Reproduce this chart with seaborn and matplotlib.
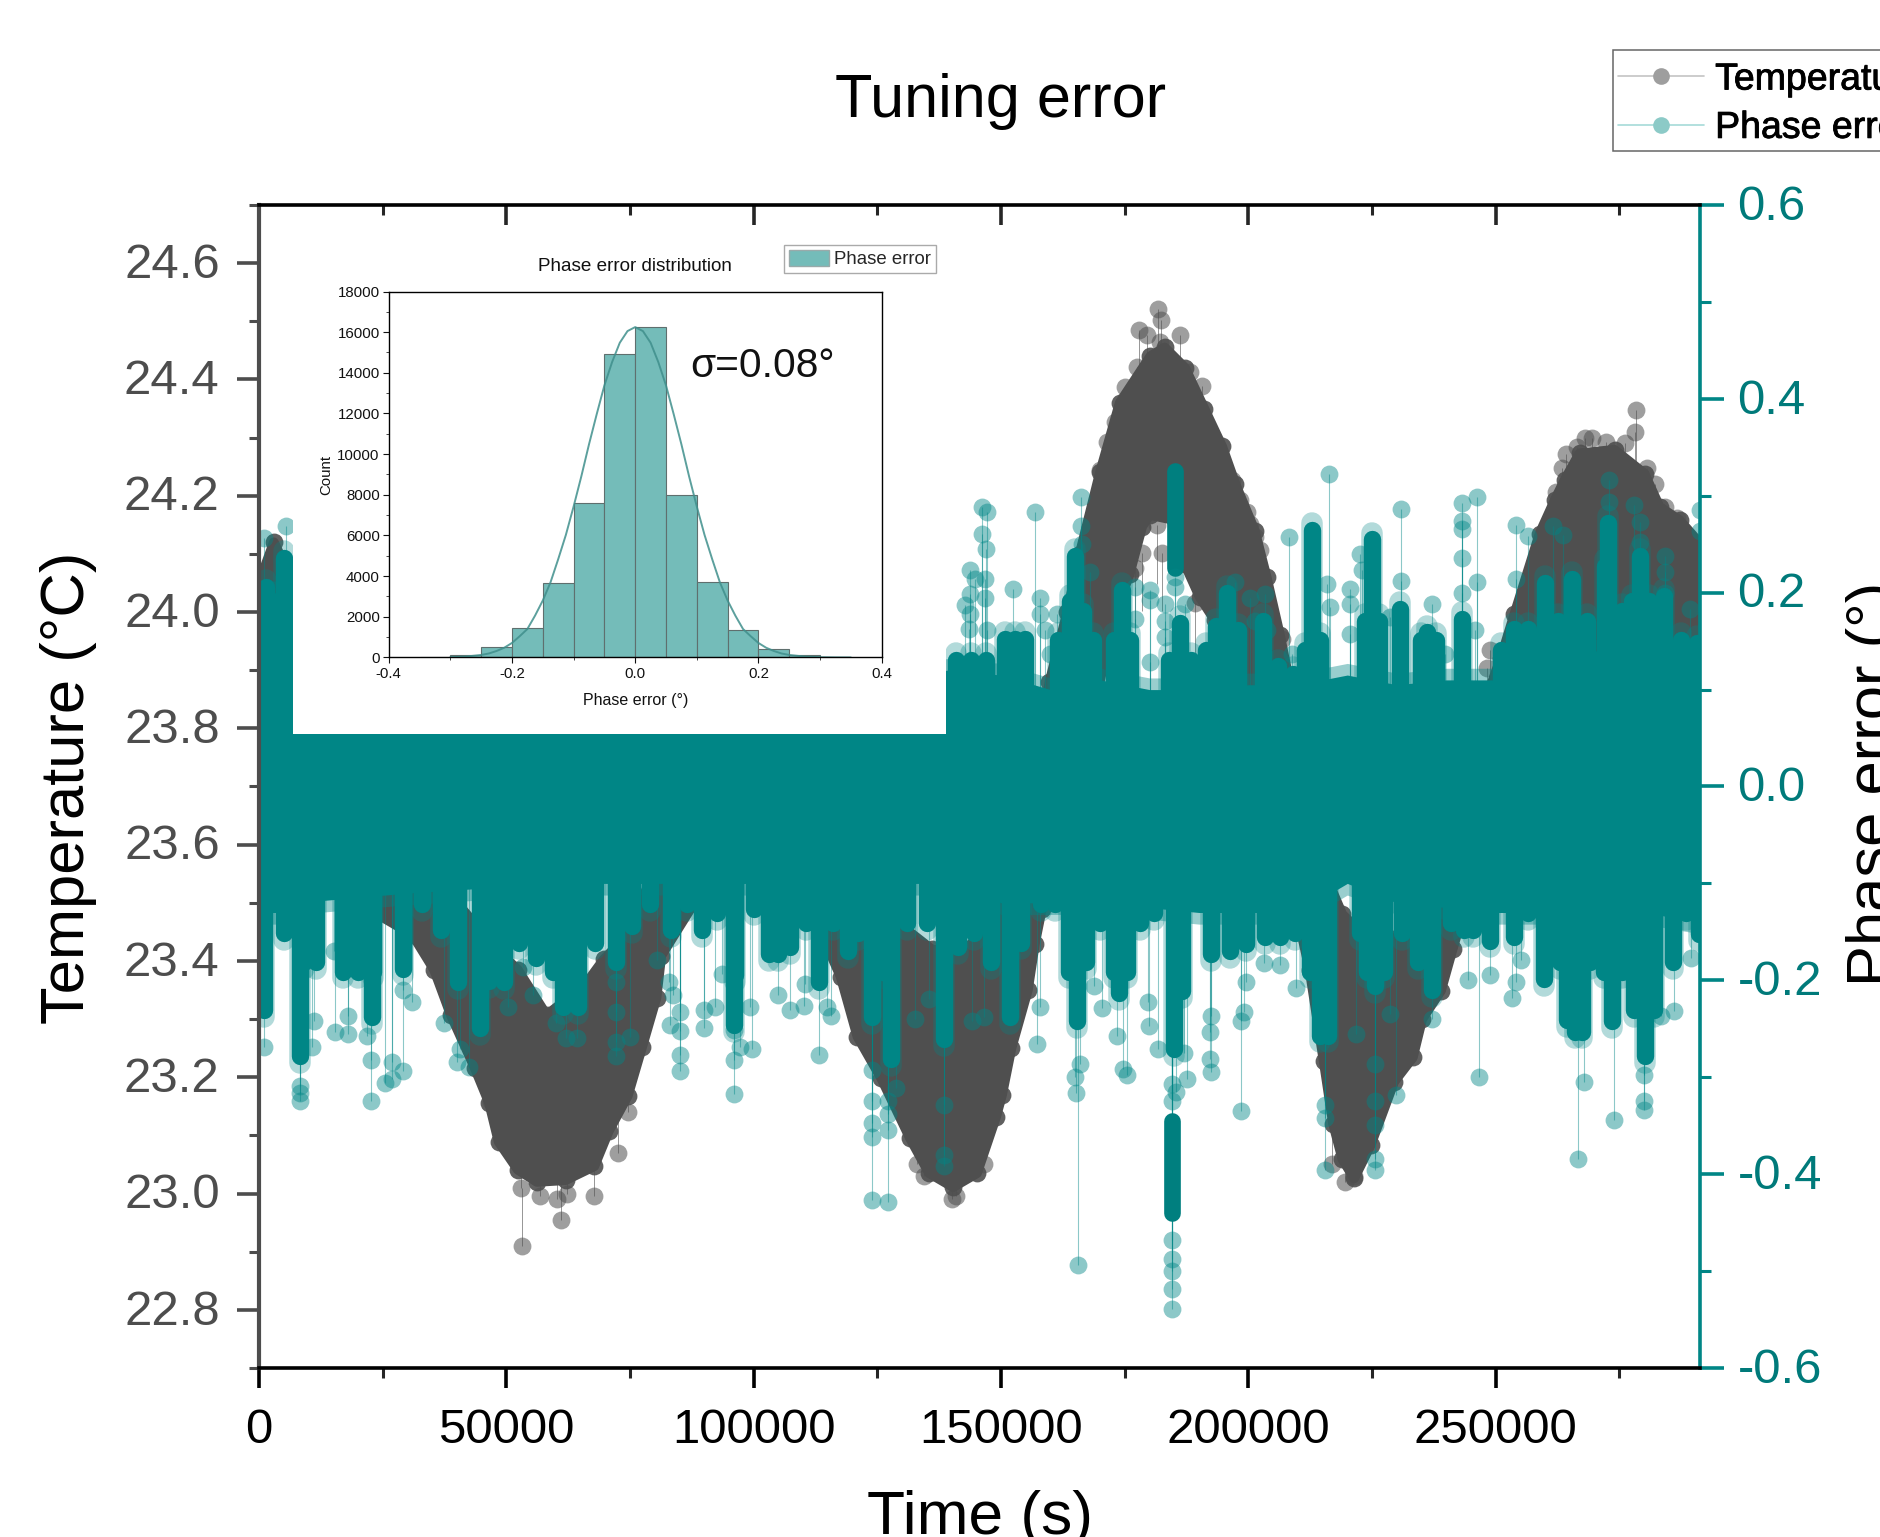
import numpy as np
import matplotlib
matplotlib.use("Agg")
import matplotlib.pyplot as plt
import matplotlib.patheffects as pe
from matplotlib.ticker import MultipleLocator
from matplotlib.lines import Line2D
from matplotlib.patches import Patch, Rectangle
from matplotlib.transforms import ScaledTranslation
import seaborn as sns

# ---------- data ----------
temp_upper_t = [0,3000,7000,14000,22000,30000,40000,48000,52310,58120,65850,69720,74550,82000,92000,105000,113000,122000,130000,136000,142000,148000,155000,159800,163400,165900,170000,174000,180200,183100,187200,191100,194700,197400,201300,203700,206400,208300,210500,214000,219000,224000,230000,235000,240000,244000,248000,251000,253800,258870,261900,263920,266950,274030,280090,283120,287170,291300]
temp_upper = [24.05,24.12,24.05,23.9,23.72,23.6,23.5,23.42,23.385,23.307,23.358,23.403,23.445,23.6,23.82,23.85,23.72,23.55,23.46,23.42,23.41,23.47,23.62,23.88,24.0,24.1,24.24,24.36,24.44,24.455,24.42,24.35,24.285,24.22,24.14,24.06,23.96,23.88,23.72,23.58,23.48,23.44,23.44,23.48,23.52,23.72,23.85,23.92,23.997,24.135,24.192,24.227,24.273,24.279,24.238,24.181,24.158,24.118]
temp_lower_t = [0,8000,20000,31040,35390,38780,43610,46510,48440,52310,56180,61980,67790,70690,74550,77450,80360,81320,88000,100000,112000,117580,120970,125800,131610,135480,140310,145150,149010,150220,152110,155430,156860,158280,165000,170960,171970,176010,178530,180050,185100,187120,190150,193190,198000,204000,208000,210480,212370,215220,217120,219020,221390,224710,229460,233250,235150,238950,241320,243700,248000,255000,265000,280000,291300]
temp_lower = [23.78,23.65,23.5,23.445,23.385,23.307,23.216,23.156,23.089,23.041,23.02,23.023,23.047,23.107,23.168,23.252,23.337,23.409,23.5,23.55,23.48,23.373,23.27,23.198,23.095,23.035,23.011,23.035,23.132,23.17,23.25,23.35,23.43,23.49,23.68,23.92,23.969,24.066,24.147,24.167,24.158,24.083,24.026,23.986,23.88,23.72,23.6,23.457,23.385,23.228,23.12,23.059,23.026,23.083,23.192,23.234,23.30,23.349,23.421,23.49,23.62,23.72,23.8,23.85,23.82]

temp_out_t = [181770,182370,177830,179540,186110,182070,188130,190660,177520,175000,172980,171460,169945,199750,200260,202280,201270,198240,196720,182580,178530,181560,189140,177020,248760,248260,206830,
              278370,278070,267960,269480,272210,276050,266450,264120,263420,262200,280600,282110,284130,286660,
              53090,61100,67800,53000,56800,60200,62300,72500,74500,46800,36000,133000,134500,140000,141000,146500,217000,219500,221400]
temp_out = [24.522,24.502,24.485,24.476,24.476,24.465,24.413,24.389,24.422,24.387,24.327,24.293,24.244,24.172,24.152,24.106,24.129,24.192,24.227,24.101,24.101,24.149,24.015,24.075,23.934,23.903,23.954,
            24.347,24.31,24.299,24.299,24.293,24.29,24.284,24.272,24.247,24.207,24.247,24.221,24.181,24.161,
            22.91,22.955,22.995,23.01,22.995,22.99,23.0,23.07,23.14,23.16,23.39,23.05,23.03,22.99,22.995,23.05,23.05,23.02,23.03]

band_t = [0,7000,7500,30000,60000,90000,120000,139000,150000,160000,170000,180000,190000,200000,210000,220000,230000,240000,250000,255000,270000,280000,291300]
band_top = [.2,.2,.09,.09,.09,.09,.09,.12,.115,.10,.11,.10,.10,.105,.105,.115,.105,.11,.11,.14,.14,.14,.14]
band_bot = [-.13,-.13,-.12,-.11,-.10,-.10,-.10,-.10,-.12,-.12,-.12,-.125,-.13,-.13,-.13,-.10,-.12,-.125,-.13,-.13,-.13,-.13,-.14]

col_up_t = [1500,5000,141000,144000,147000,150800,152800,154800,165000,164000,166500,161500,168500,174500,172900,176000,186100,184000,188500,195700,191500,193500,198000,203000,206000,209000,212900,211500,214500,225000,223500,226500,230600,236100,234800,238000,243200,251000,253800,256500,259900,262500,265400,268500,272000,272800,275500,279100,277500,281000,284100,287500,290700]
col_up = [.215,.245,.14,.14,.14,.161,.161,.161,.247,.2,.19,.16,.16,.212,.16,.16,.178,.14,.14,.209,.15,.175,.17,.18,.133,.125,.274,.15,.16,.264,.18,.18,.192,.168,.16,.16,.182,.15,.171,.171,.219,.18,.223,.18,.237,.281,.19,.247,.2,.2,.206,.16,.157]
col_dn_t = [1060,5000,9000,11500,8220,17000,20000,23000,22800,29100,33000,36800,40200,44580,46500,49500,52500,56000,59500,61500,64500,68000,72100,75500,79000,83260,86500,89500,92500,96300,96000,100000,103100,105000,107400,110500,113200,116000,119000,123900,121000,126000,127740,131000,135000,138400,141300,144500,148000,151830,154000,158000,161000,165400,163800,167200,170000,173940,172800,175500,178000,181000,185040,186500,192400,196240,199560,203360,206490,209500,212500,214460,216000,222500,225660,224000,227500,231000,234200,237050,241000,243690,245500,248910,253650,256500,259820,263000,264500,266000,267500,269000,273580,271800,275500,278000,280230,282000,285920,288500,291140]
col_dn = [-.24,-.16,-.19,-.19,-.287,-.2,-.2,-.2,-.247,-.197,-.13,-.157,-.211,-.258,-.21,-.211,-.17,-.186,-.2,-.237,-.237,-.17,-.19,-.153,-.13,-.157,-.13,-.157,-.14,-.204,-.255,-.135,-.182,-.182,-.175,-.15,-.211,-.15,-.179,-.247,-.16,-.2,-.29,-.15,-.15,-.27,-.175,-.16,-.19,-.247,-.17,-.13,-.13,-.251,-.2,-.19,-.15,-.222,-.2,-.2,-.15,-.14,-.28,-.22,-.182,-.179,-.172,-.164,-.164,-.16,-.2,-.266,-.266,-.16,-.215,-.2,-.2,-.16,-.19,-.219,-.15,-.157,-.157,-.168,-.164,-.14,-.208,-.19,-.25,-.262,-.262,-.19,-.251,-.2,-.2,-.24,-.287,-.24,-.19,-.14,-.161]
col_float_t = [185100,184570]
col_float_lo = [.225,-.44]
col_float_hi = [.326,-.345]

phase_up_t = [1000,5500,146200,147210,146200,146900,143670,144680,146700,146700,143670,142660,143670,147210,143470,156810,152460,157820,157820,158830,161360,159840,166200,166200,166410,167920,177020,180050,180050,177020,183080,183080,183080,180050,185100,185100,187120,200260,197230,203290,201270,203800,208140,208850,216330,215920,216430,220470,220470,220470,222490,223000,228550,230880,230880,237140,239670,243110,243110,243110,243110,243110,246140,246140,245730,254020,256540,254020,261600,263620,272810,272810,277860,279080,279080,284130,284130,284130,289190,291200,291200]
phase_up = [.256,.269,.288,.283,.261,.245,.223,.214,.214,.194,.199,.187,.178,.161,.163,.283,.204,.195,.178,.161,.178,.137,.299,.269,.250,.221,.206,.203,.192,.173,.188,.171,.154,.128,.216,.206,.188,.195,.211,.199,.171,.161,.257,.137,.322,.209,.185,.204,.188,.157,.240,.223,.175,.286,.212,.188,.137,.293,.274,.266,.236,.2,.299,.211,.161,.27,.258,.214,.269,.26,.316,.294,.29,.273,.252,.238,.221,.2,.183,.285,.264]
phase_dn_t = [1060,8220,8220,8220,11215,10730,15080,15370,18000,18000,21850,22720,22720,25530,26880,26880,29100,30850,29100,37330,40710,40030,42450,50380,53280,55410,60050,61980,64210,72140,72140,72140,72140,75040,80360,82970,83740,83060,85190,85190,85190,85190,90030,90030,92250,93610,96020,96020,96020,97280,99700,99210,105010,107430,110330,110140,113230,114880,115650,123870,127060,123870,123870,123870,123870,127060,127060,127060,128700,138380,138380,138380,144180,146600,132570,135480,
              165590,184570,184570,184570,184570,184570,184660,185330,184660,187510,186940,165210,164920,165870,157810,157330,168720,170330,173470,174600,175550,179730,179920,181820,192160,192160,192540,192540,198610,199090,198610,199560,203070,206490,209530,215410,215410,215410,225660,225660,225660,225660,225660,229930,221860,228700,237050,244450,248910,246540,253370,254130,255080,266660,267880,273870,280040,280040,280040,283360,286110,289430]
phase_dn = [-.269,-.309,-.316,-.324,-.242,-.269,-.170,-.253,-.255,-.237,-.257,-.282,-.325,-.306,-.302,-.284,-.294,-.222,-.21,-.244,-.271,-.284,-.289,-.228,-.186,-.215,-.244,-.26,-.26,-.202,-.233,-.264,-.278,-.258,-.179,-.202,-.215,-.246,-.233,-.252,-.277,-.294,-.231,-.249,-.228,-.193,-.282,-.317,-.251,-.269,-.271,-.228,-.215,-.231,-.204,-.226,-.277,-.228,-.237,-.427,-.429,-.362,-.347,-.325,-.293,-.354,-.338,-.324,-.311,-.329,-.38,-.392,-.242,-.238,-.24,-.219,
            -.494,-.539,-.518,-.5,-.488,-.468,-.325,-.315,-.307,-.302,-.275,-.316,-.30,-.286,-.228,-.266,-.206,-.229,-.257,-.291,-.298,-.222,-.247,-.271,-.253,-.281,-.295,-.237,-.335,-.233,-.242,-.202,-.182,-.184,-.208,-.396,-.342,-.329,-.396,-.384,-.286,-.325,-.349,-.318,-.255,-.235,-.24,-.2,-.194,-.3,-.218,-.202,-.179,-.384,-.305,-.344,-.334,-.325,-.298,-.237,-.232,-.177]

hist_edges = [-.35,-.3,-.25,-.2,-.15,-.1,-.05,0,.05,.1,.15,.2,.25,.3,.35]
hist_centers = [-.325,-.275,-.225,-.175,-.125,-.075,-.025,.025,.075,.125,.175,.225,.275,.325]
hist_counts = [30,130,500,1470,3680,7600,14950,16250,8000,3730,1350,430,130,30]
fit_x = [-.3,-.275,-.25,-.2375,-.225,-.2125,-.2,-.1875,-.175,-.1625,-.15,-.1375,-.125,-.1125,-.1,-.0875,-.075,-.0625,-.05,-.0375,-.025,-.0125,0,.0125,.025,.0375,.05,.0625,.075,.0875,.1,.1125,.125,.1375,.15,.1625,.175,.1875,.2,.2125,.225,.2375,.25,.275,.3,.325,.35]
fit_y = [14,45,125,197,320,480,714,1045,1400,2060,2800,3690,4830,6030,7420,8900,10480,11961,13380,14528,15480,16053,16250,16053,15480,14528,13380,11961,10480,8900,7420,6030,4830,3690,2800,2060,1400,1045,714,480,320,197,125,45,14,4,1]

# ---------- style ----------
W, H = 1881, 1537
sns.set_theme(style="ticks")
plt.rcParams["font.family"] = ["Liberation Sans", "DejaVu Sans"]
plt.rcParams["axes.unicode_minus"] = False
GRAY, TEAL = "#4f4f4f", "#008686"
MS = 165

fig = plt.figure(figsize=(W / 100, H / 100), dpi=100, facecolor="white")
ax = fig.add_axes([259 / W, 1 - 1368 / H, 1441 / W, 1163 / H])
tw = ax.twinx()

# ---------- temperature ----------
ax.fill(temp_upper_t + temp_lower_t[::-1], temp_upper + temp_lower[::-1], color=GRAY, lw=7, joinstyle="round", zorder=1)
ax.vlines(temp_out_t, temp_out, [v + 0.1 if v < 23.5 else v - 0.1 for v in temp_out], color=GRAY, lw=0.7, alpha=0.6, zorder=1)
sns.scatterplot(x=temp_upper_t, y=temp_upper, ax=ax, color=GRAY, s=MS, alpha=0.9, linewidth=0, legend=False, zorder=1.5)
sns.scatterplot(x=temp_lower_t, y=temp_lower, ax=ax, color=GRAY, s=MS, alpha=0.9, linewidth=0, legend=False, zorder=1.5)
sns.scatterplot(x=temp_out_t, y=temp_out, ax=ax, color=GRAY, s=MS, alpha=0.55, linewidth=0, legend=False, zorder=2)
ax.set_xlim(0, 291300)
ax.set_ylim(22.7, 24.7)
ax.set_ylabel("")

# ---------- phase error ----------
tw.vlines(phase_up_t, 0, phase_up, color=TEAL, lw=0.8, alpha=0.45, zorder=1)
tw.vlines(phase_dn_t, 0, phase_dn, color=TEAL, lw=0.8, alpha=0.45, zorder=1)
tw.fill_between(band_t, np.array(band_bot) - 0.012, np.array(band_top) + 0.012, color=TEAL, alpha=0.4, lw=0, zorder=1.4)
tw.fill_between(band_t, band_bot, band_top, color=TEAL, lw=0, zorder=1.5)
tw.vlines(col_up_t, 0, np.array(col_up) - 0.002, color=TEAL, lw=15.5, alpha=0.3, capstyle="round", zorder=1.45)
tw.vlines(col_dn_t, 0, np.array(col_dn) + 0.002, color=TEAL, lw=15.5, alpha=0.3, capstyle="round", zorder=1.45)
tw.vlines(col_up_t, 0, np.array(col_up) - 0.009, color=TEAL, lw=12.5, capstyle="round", zorder=1.6)
tw.vlines(col_dn_t, 0, np.array(col_dn) + 0.009, color=TEAL, lw=12.5, capstyle="round", zorder=1.6)
tw.vlines(col_float_t, col_float_lo, col_float_hi, color="#007f7f", lw=12, capstyle="round", zorder=1.7)
sns.scatterplot(x=phase_up_t + phase_dn_t, y=phase_up + phase_dn, ax=tw, color=TEAL, s=MS, alpha=0.45,
                linewidth=0, legend=False, zorder=1.8)
tw.set_xlim(0, 291300)
tw.set_ylim(-0.6, 0.6)

# ---------- axes furniture ----------
FS_TICK, FS_LABEL = 35.4, 44.3
ax.xaxis.set_major_locator(MultipleLocator(50000))
ax.xaxis.set_minor_locator(MultipleLocator(25000))
ax.yaxis.set_major_locator(MultipleLocator(0.2))
ax.yaxis.set_minor_locator(MultipleLocator(0.1))
tw.yaxis.set_major_locator(MultipleLocator(0.2))
tw.yaxis.set_minor_locator(MultipleLocator(0.1))
ax.tick_params(axis="x", which="major", direction="out", length=14.4, width=2.6, labelsize=FS_TICK, pad=14.5, colors="black")
ax.tick_params(axis="x", which="minor", direction="out", length=7.2, width=2.2)
ax.tick_params(axis="y", which="major", direction="out", length=15.8, width=2.6, labelsize=FS_TICK, pad=12.5,
               color="#4d4d4d", labelcolor="#4d4d4d")
ax.tick_params(axis="y", which="minor", direction="out", length=7.5, width=2.2, color="#4d4d4d")
tw.tick_params(axis="y", which="major", direction="out", length=17, width=2.6, labelsize=FS_TICK, pad=10,
               color=TEAL, labelcolor="#007a7a")
tw.tick_params(axis="y", which="minor", direction="out", length=8, width=2.2, color=TEAL)
nudge = ScaledTranslation(0, 2 / 72, fig.dpi_scale_trans)
for lab in ax.get_yticklabels() + tw.get_yticklabels():
    lab.set_transform(lab.get_transform() + nudge)
sec = ax.secondary_xaxis("top")
sec.xaxis.set_major_locator(MultipleLocator(50000))
sec.xaxis.set_minor_locator(MultipleLocator(25000))
sec.tick_params(axis="x", which="major", direction="in", length=14.4, width=2.6, labeltop=False)
sec.tick_params(axis="x", which="minor", direction="in", length=7.2, width=2.2)
sec.spines["top"].set_visible(False)

for s in ax.spines.values():
    s.set_visible(False)
for name, col, lw in (("left", "#4d4d4d", 3), ("right", TEAL, 2.6), ("top", "black", 2.6), ("bottom", "black", 2.6)):
    tw.spines[name].set_visible(True)
    tw.spines[name].set_color(col)
    tw.spines[name].set_linewidth(lw)
    tw.spines[name].set_zorder(5)

ax.set_title("Tuning error", fontsize=44, x=0.5146, y=1.089, va="center", color="black", pad=0)
ax.set_xlabel("Time (s)", fontsize=FS_LABEL + 0.5, color="black", va="center")
ax.xaxis.set_label_coords(0.5004, -0.129)
ax.set_ylabel("Temperature (°C)", fontsize=FS_LABEL, color="black", va="center")
ax.yaxis.set_label_coords(-0.1325, 0.4985)
tw.set_ylabel("Phase error (°)", fontsize=FS_LABEL, color="black", va="center", rotation=90)
tw.yaxis.set_label_coords(1.121, 0.502)

# ---------- main legend (runs off the figure as in the reference) ----------
fig.add_artist(Rectangle((1613.5 / W, 1 - 151 / H), 400 / W, 101 / H, transform=fig.transFigure,
                         facecolor="white", edgecolor="#666666", lw=1.1))
handles = [
    Line2D([], [], color="#c4c4c4", lw=1.2, marker="o", ms=12, mfc="#9e9e9e", mec="none", label="Temperature"),
    Line2D([], [], color="#a6dad8", lw=1.2, marker="o", ms=12, mfc="#8ccac7", mec="none", label="Phase error"),
]
leg = fig.legend(handles=handles, loc="upper left", bbox_to_anchor=(1618 / W, 1 - 61.5 / H), borderaxespad=0,
                 fontsize=27, frameon=False, handlelength=2.3, handletextpad=0.29, labelspacing=0.33, borderpad=0)
for t in leg.get_texts():
    t.set_color("black")
    t.set_path_effects([pe.withStroke(linewidth=0.6, foreground="black")])

# ---------- white panel and inset ----------
panel = fig.add_axes([293 / W, 1 - 734 / H, 653 / W, 498 / H], zorder=5, facecolor="white")
panel.set_xticks([]); panel.set_yticks([])
for s in panel.spines.values():
    s.set_visible(False)

ins = fig.add_axes([388.7 / W, 1 - 657.5 / H, 493 / W, 366 / H], zorder=6, facecolor="white")
sns.histplot(x=hist_centers, weights=hist_counts, bins=hist_edges, ax=ins, color="#74bcb9", alpha=1,
             edgecolor="#5f6f6e", linewidth=0.8, label="Phase error", legend=False)
sns.lineplot(x=fit_x, y=fit_y, ax=ins, color="#3f8f8c", lw=1.4, legend=False, alpha=0.85)
ins.set_xlim(-0.4, 0.4)
ins.set_ylim(0, 18000)
ins.xaxis.set_major_locator(MultipleLocator(0.2))
ins.xaxis.set_minor_locator(MultipleLocator(0.1))
ins.yaxis.set_major_locator(MultipleLocator(2000))
ins.yaxis.set_minor_locator(MultipleLocator(1000))
ins.tick_params(axis="both", which="major", direction="out", length=4, width=0.8, labelsize=10.8, pad=2.5, colors="#111111")
ins.tick_params(axis="both", which="minor", direction="out", length=2, width=0.6)
for s in ins.spines.values():
    s.set_visible(True); s.set_color("black"); s.set_linewidth(1)
ins.set_xlabel("Phase error (°)", fontsize=11.5, labelpad=9, color="#111111")
ins.set_ylabel("Count", fontsize=10.8, labelpad=3, color="#111111")
ins.set_title("Phase error distribution", fontsize=13.6, pad=15, color="#111111")
ins.text(0.207, 14350, "σ=0.08°", fontsize=29.3, ha="center", va="center", color="#111111")
ins.legend(handles=[Patch(facecolor="#74bcb9", edgecolor="#9aa", label="Phase error")], loc="upper left",
           bbox_to_anchor=(784 / W, 1 - 245 / H), bbox_transform=fig.transFigure, borderaxespad=0, fontsize=13.4,
           frameon=True, fancybox=False, framealpha=1, edgecolor="#aaaaaa", handlelength=2.15, handleheight=1.0,
           handletextpad=0.3, borderpad=0.25)

fig.savefig("out.png", dpi=100, facecolor="white")
